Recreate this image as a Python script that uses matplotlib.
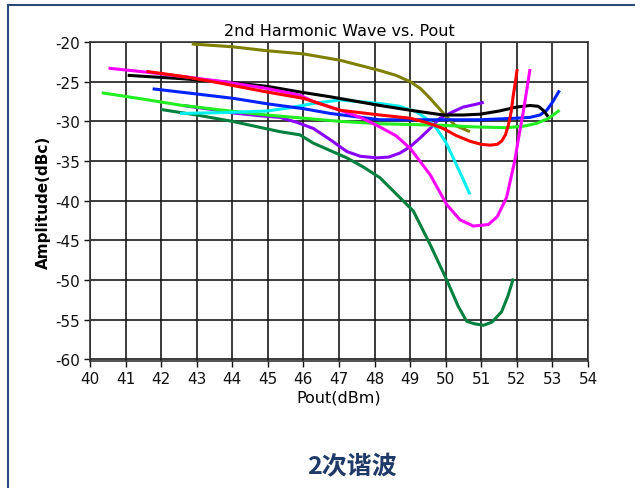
import matplotlib.pyplot as plt
from matplotlib.lines import Line2D

plt.rcParams['axes.unicode_minus'] = False
plt.rcParams['font.family'] = ['DejaVu Sans']

# curves (Pout dBm, amplitude dBc)
olive_x = [42.86, 44.0, 44.97, 46.0, 47.03, 48.15, 48.6, 49.0, 49.3, 49.56, 49.8, 49.98, 50.26, 50.68]
olive_y = [-20.25, -20.6, -21.1, -21.5, -22.3, -23.6, -24.2, -25.0, -25.9, -27.1, -28.3, -29.2, -30.5, -31.3]

black_x = [41.06, 42.5, 43.75, 45.0, 45.9, 46.75, 48.15, 49.0, 49.93, 50.5, 50.96, 51.5, 51.99, 52.37, 52.6, 52.74, 52.88]
black_y = [-24.2, -24.6, -25.0, -25.6, -26.3, -26.9, -28.0, -28.6, -29.2, -29.2, -29.1, -28.7, -28.2, -28.0, -28.1, -28.6, -29.4]

red_x = [41.59, 42.7, 43.75, 44.97, 46.0, 47.03, 48.15, 49.0, 49.5, 49.93, 50.3, 50.68, 51.0, 51.25, 51.45, 51.57, 51.68, 51.76, 51.84, 51.9, 51.96, 52.01]
red_y = [-23.7, -24.4, -25.25, -26.3, -27.1, -28.6, -29.2, -29.6, -30.2, -30.9, -31.8, -32.5, -32.9, -33.0, -32.9, -32.5, -31.7, -30.5, -28.8, -26.7, -25.0, -23.4]

magenta_x = [40.52, 41.59, 42.7, 43.75, 44.9, 45.9, 46.28, 47.03, 47.6, 48.06, 48.6, 49.0, 49.56, 50.03, 50.4, 50.78, 51.2, 51.45, 51.71, 51.94, 52.06, 52.18, 52.28, 52.37]
magenta_y = [-23.3, -23.8, -24.4, -25.0, -25.8, -26.7, -27.5, -28.6, -29.5, -30.5, -31.8, -33.4, -36.7, -40.5, -42.4, -43.2, -43.0, -42.0, -39.6, -35.0, -31.8, -28.8, -26.0, -23.4]

blue_x = [41.76, 42.9, 44.03, 45.0, 46.0, 46.75, 48.15, 49.0, 50.0, 50.96, 52.0, 52.37, 52.65, 52.84, 53.0, 53.2]
blue_y = [-25.9, -26.5, -27.1, -27.8, -28.4, -29.0, -29.8, -29.8, -29.8, -29.8, -29.6, -29.5, -29.2, -28.6, -27.6, -26.1]

lime_x = [40.33, 41.5, 42.53, 43.75, 44.97, 46.0, 47.03, 48.15, 49.0, 49.93, 50.8, 51.71, 52.2, 52.56, 52.9, 53.2]
lime_y = [-26.4, -27.2, -27.95, -28.6, -29.2, -29.6, -30.0, -30.3, -30.4, -30.5, -30.7, -30.8, -30.6, -30.25, -29.6, -28.6]

cyan_x = [42.53, 43.75, 44.97, 45.6, 46.28, 47.03, 48.15, 48.7, 49.18, 49.5, 49.74, 50.0, 50.21, 50.45, 50.68]
cyan_y = [-29.0, -28.9, -28.7, -28.3, -27.75, -27.3, -27.75, -28.1, -28.8, -29.8, -30.9, -32.6, -34.6, -36.9, -39.2]

purple_x = [42.6, 43.5, 44.03, 44.8, 45.34, 45.8, 46.28, 46.75, 47.22, 47.6, 48.06, 48.4, 48.71, 49.0, 49.28, 49.56, 49.84, 50.2, 50.49, 50.8, 51.07]
purple_y = [-28.0, -28.55, -28.95, -29.3, -29.5, -30.1, -30.9, -32.3, -33.8, -34.4, -34.6, -34.5, -34.0, -33.2, -32.1, -30.9, -29.6, -28.8, -28.2, -27.9, -27.6]

dkgreen_x = [41.99, 43.0, 44.0, 45.34, 45.9, 46.28, 47.22, 47.7, 48.15, 48.71, 49.09, 49.56, 50.03, 50.35, 50.59, 50.8, 51.06, 51.3, 51.57, 51.75, 51.9]
dkgreen_y = [-28.5, -29.2, -30.0, -31.3, -31.7, -32.75, -34.6, -35.8, -37.1, -39.6, -41.3, -45.5, -50.0, -53.3, -55.2, -55.5, -55.7, -55.3, -54.0, -52.0, -49.8]

x_ticks = list(range(40, 55))
y_ticks = list(range(-60, -19, 5))

# drawing order: first entry lies at the bottom
curves = [
    (purple_x, purple_y, '#8a00ff'),
    (dkgreen_x, dkgreen_y, '#00803f'),
    (olive_x, olive_y, '#808000'),
    (lime_x, lime_y, '#22ee22'),
    (cyan_x, cyan_y, '#00f0f0'),
    (blue_x, blue_y, '#0022ff'),
    (black_x, black_y, '#000000'),
    (magenta_x, magenta_y, '#ff00ff'),
    (red_x, red_y, '#ff0000'),
]

fig = plt.figure(figsize=(6.35, 4.89), dpi=100)
ax = fig.add_axes([90 / 635, 1 - 362 / 489, 498 / 635, 319 / 489])

for xs, ys, col in curves:
    ax.plot(xs, ys, color=col, lw=2.2, solid_capstyle='butt', zorder=3)

ax.set_xlim(40, 54)
ax.set_ylim(-60.2, -20)
ax.set_xticks(x_ticks)
ax.set_yticks(y_ticks)
ax.grid(True, color='#1a1a1a', lw=1.2)
for sp in ax.spines.values():
    sp.set_color('#333333')
    sp.set_linewidth(1.2)
ax.tick_params(direction='out', length=4, width=1, labelsize=11, pad=3, colors='#111111')

ax.set_title('2nd Harmonic Wave vs. Pout', fontsize=11.5, pad=5)
ax.set_xlabel('Pout(dBm)', fontsize=11.5, labelpad=3)
ax.set_ylabel('Amplitude(dBc)', fontsize=11, fontweight='bold', labelpad=3)

# dark blue frame around the picture
frame_col = '#2e4a7a'
fig.add_artist(Line2D([8 / 635, 1.0], [1 - 6 / 489, 1 - 6 / 489], color=frame_col, lw=1.5))
fig.add_artist(Line2D([8 / 635, 8 / 635], [0.0, 1 - 6 / 489], color=frame_col, lw=1.5))

fig.text(352 / 635, 1 - 467 / 489, '2次谐波', ha='center', va='center', fontsize=18,
         fontweight='bold', color='#1f3a66', family=['Noto Sans CJK SC', 'DejaVu Sans'])

fig.savefig('out.png', dpi=100)
